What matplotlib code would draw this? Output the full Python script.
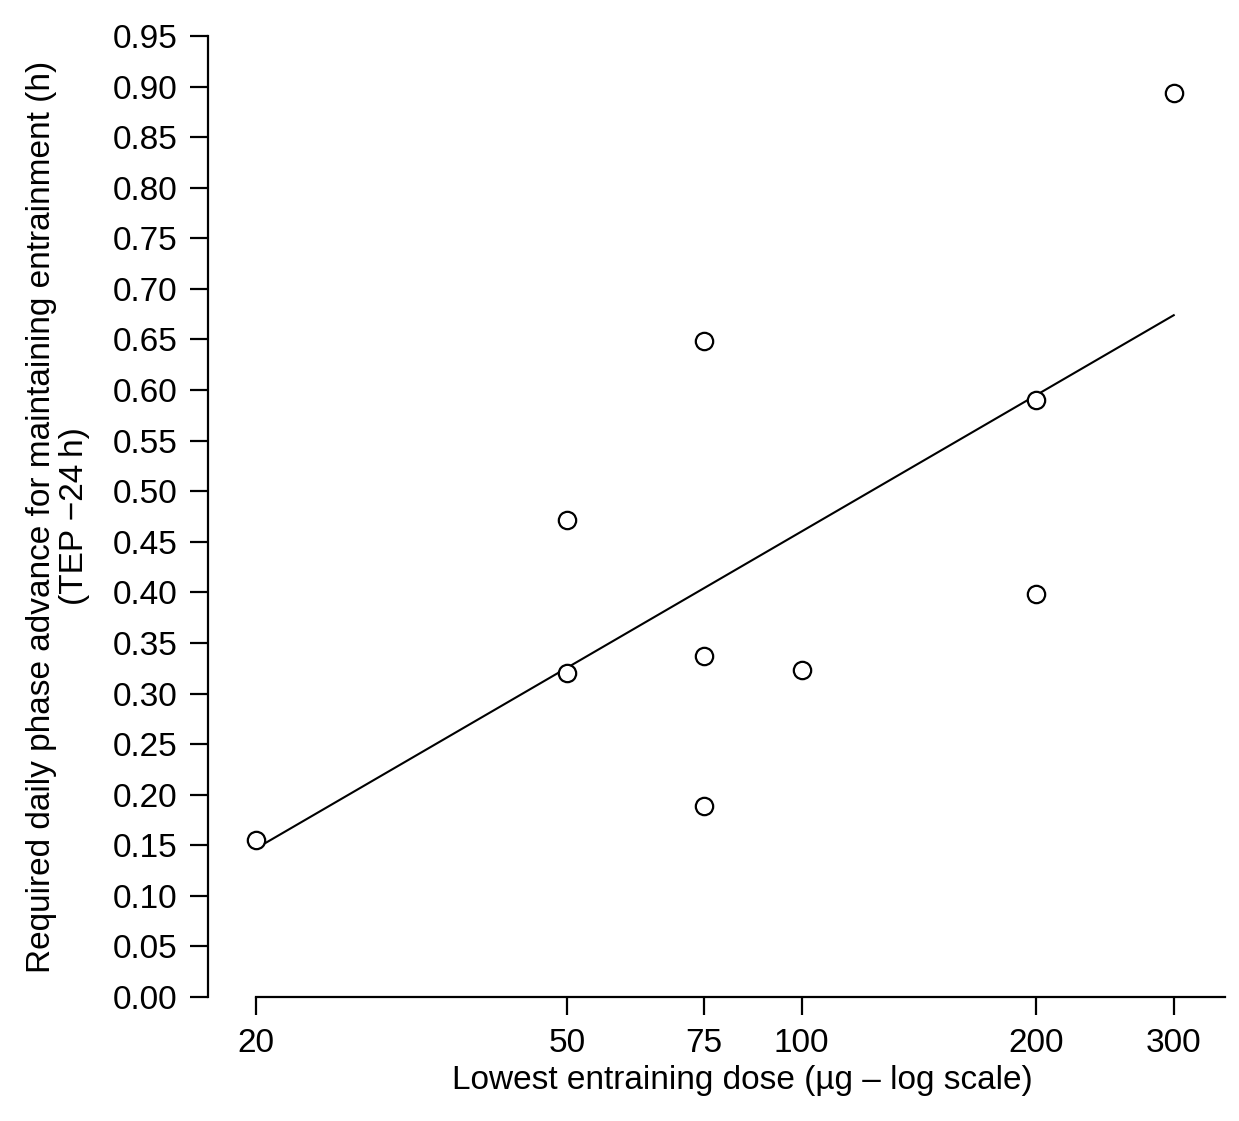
import matplotlib
matplotlib.use("Agg")
import matplotlib.pyplot as plt

# data
dose = [20, 50, 50, 75, 75, 75, 100, 200, 200, 300]
advance = [0.155, 0.472, 0.320, 0.648, 0.337, 0.189, 0.323, 0.590, 0.398, 0.894]

# fitted line (end points)
fit_x = [20, 300]
fit_y = [0.147, 0.674]

x_ticks = [20, 50, 75, 100, 200, 300]
y_ticks = [i * 0.05 for i in range(20)]

plt.rcParams['font.family'] = ['Liberation Sans', 'DejaVu Sans']

fig = plt.figure(figsize=(12.39, 11.21), dpi=100)
ax = fig.add_axes([208 / 1239, 1 - 997 / 1121, 1017 / 1239, 961 / 1121])

ax.plot(fit_x, fit_y, color='black', lw=1.5, zorder=2)
ax.plot(dose, advance, linestyle='none', marker='o', ms=12.5,
        mfc='white', mec='black', mew=1.6, zorder=3)

ax.set_xscale('log')
ax.set_xlim(17.34, 349)
ax.set_ylim(0, 0.95)

ax.set_xticks(x_ticks)
ax.set_xticklabels([str(v) for v in x_ticks])
ax.xaxis.set_minor_locator(matplotlib.ticker.NullLocator())
ax.set_yticks(y_ticks)
ax.set_yticklabels(['%.2f' % v for v in y_ticks])

for s in ['top', 'right']:
    ax.spines[s].set_visible(False)
ax.spines['left'].set_linewidth(1.6)
ax.spines['bottom'].set_linewidth(1.6)
ax.spines['bottom'].set_bounds(20, 349)

ax.tick_params(axis='both', length=13, width=1.6, pad=9, labelsize=24,
               direction='out', colors='black')

ax.set_xlabel('Lowest entraining dose (\u00b5g \u2013 log scale)', fontsize=24)
ax.xaxis.set_label_coords(0.525, -0.071)
ax.set_ylabel('Required daily phase advance for maintaining entrainment (h)\n(TEP \u221224\u2009h)',
              fontsize=24, linespacing=1.1)
ax.yaxis.set_label_coords(-0.116, 0.5)

fig.savefig('out.png', dpi=100)
